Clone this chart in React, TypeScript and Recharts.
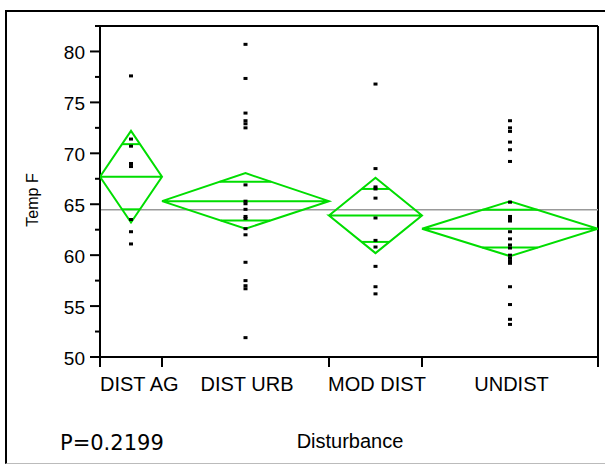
import React from "react";
import { ComposedChart, Scatter, XAxis, YAxis, ReferenceLine } from "recharts";

const categories = ["DIST AG", "DIST URB", "MOD DIST", "UNDIST"];
// group edges on the x axis; widths grow with group size
const groupEdges = [0, 62, 229, 322, 498];

const distAg = [77.6, 71.4, 70.7, 69.0, 68.7, 63.5, 62.3, 61.1];
const distUrb = [80.7, 77.35, 73.95, 73.2, 72.9, 72.5, 66.9, 65.3, 65.05, 64.5, 63.8, 63.6, 62.6, 62.0, 59.3, 57.5, 57.0, 56.7, 51.9];
const modDist = [76.8, 68.5, 66.7, 66.5, 65.6, 63.65, 61.45, 60.8, 58.9, 56.9, 56.2];
const undist = [73.2, 72.5, 72.15, 71.1, 70.35, 69.2, 65.2, 63.8, 63.6, 63.35, 62.3, 61.6, 61.0, 60.7, 60.0, 59.7, 59.45, 59.2, 56.9, 55.15, 53.7, 53.2];
const groups = [distAg, distUrb, modDist, undist];

const groupMeans = [67.7, 65.3, 63.9, 62.6];
const ciUpper = [72.2, 68.05, 67.6, 65.3];
const ciLower = [63.2, 62.6, 60.2, 59.9];
const overlapUpper = [70.9, 67.2, 66.5, 64.45];
const overlapLower = [64.5, 63.4, 61.3, 60.75];
const grandMean = 64.45;

const yTicks = [50, 52.5, 55, 57.5, 60, 62.5, 65, 67.5, 70, 72.5, 75, 77.5, 80, 82.5];
const pLabel = "P=0.2199";

const GREEN = "#00dd00";
const PLOT_LEFT = 100;
const PLOT_BOTTOM = 357;
const FONT = "Arial, 'Liberation Sans', sans-serif";

const centers = categories.map((_, i) => (groupEdges[i] + groupEdges[i + 1]) / 2);
const xTicks = [...groupEdges, ...centers].sort((a, b) => a - b);

const dotData = groups.flatMap((vals, i) => vals.map((v) => ({ x: centers[i], y: v })));

const diamonds = categories.map((_, i) => {
  const l = groupEdges[i];
  const r = groupEdges[i + 1];
  const c = centers[i];
  return [
    { x: l, y: groupMeans[i] },
    { x: c, y: ciUpper[i] },
    { x: r, y: groupMeans[i] },
    { x: c, y: ciLower[i] },
    { x: l, y: groupMeans[i] },
    { x: r, y: groupMeans[i] },
  ];
});

// overlap marks sit on the diamond edges
const overlapSegments = categories.flatMap((_, i) => {
  const half = (groupEdges[i + 1] - groupEdges[i]) / 2;
  const c = centers[i];
  const m = groupMeans[i];
  const seg = (v: number, ci: number) => {
    const w = half * (1 - Math.abs(v - m) / Math.abs(ci - m));
    return [
      { x: c - w, y: v },
      { x: c + w, y: v },
    ];
  };
  return [seg(overlapUpper[i], ciUpper[i]), seg(overlapLower[i], ciLower[i])];
});

const Dot = (p: any) => <rect x={p.cx - 2} y={p.cy - 1.5} width={4} height={3} fill="#000" />;

const YTick = (props: any) => {
  const { y, payload } = props;
  const major = payload.value % 5 === 0;
  return (
    <g>
      <line x1={PLOT_LEFT - (major ? 10 : 5)} x2={PLOT_LEFT} y1={y} y2={y} stroke="#000" strokeWidth={2} />
      {major && payload.value <= 80 && (
        <text x={PLOT_LEFT - 15} y={y + 8} textAnchor="end" fontSize={19} fontFamily={FONT} fill="#000">
          {payload.value}
        </text>
      )}
    </g>
  );
};

const XTick = (props: any) => {
  const { x, payload } = props;
  const v = payload.value;
  if (groupEdges.includes(v)) {
    return <line x1={x} x2={x} y1={PLOT_BOTTOM} y2={PLOT_BOTTOM + 10} stroke="#000" strokeWidth={2} />;
  }
  const i = centers.indexOf(v);
  if (i < 0) return <g />;
  const first = i === 0;
  return (
    <text
      x={first ? PLOT_LEFT : x + 1.5}
      y={391}
      textAnchor={first ? "start" : "middle"}
      fontSize={20}
      fontFamily={FONT}
      fill="#000"
    >
      {categories[i]}
    </text>
  );
};

export default function App() {
  return (
    <div style={{ position: "absolute", left: 0, top: 0, width: 605, height: 464, background: "#fff", overflow: "hidden" }}>
      <div
        style={{
          position: "absolute",
          left: 5,
          top: 10,
          width: 620,
          height: 451,
          borderLeft: "2px solid #000",
          borderTop: "2px solid #000",
          borderBottom: "1px solid #bbb",
        }}
      />
      <div style={{ position: "absolute", left: 0, top: 0 }}>
        <ComposedChart width={605} height={464} margin={{ top: 26, right: 7, bottom: 47, left: 0 }}>
          <XAxis
            type="number"
            dataKey="x"
            domain={[0, 498]}
            ticks={xTicks}
            interval={0}
            allowDataOverflow
            height={60}
            tickLine={false}
            tick={<XTick />}
            axisLine={{ stroke: "#000", strokeWidth: 2 }}
          />
          <YAxis
            type="number"
            dataKey="y"
            domain={[50, 82.5]}
            ticks={yTicks}
            interval={0}
            allowDataOverflow
            width={100}
            tickLine={false}
            tick={<YTick />}
            axisLine={{ stroke: "#000", strokeWidth: 2 }}
          />
          <ReferenceLine y={82.5} stroke="#000" strokeWidth={2} />
          <ReferenceLine x={498} stroke="#000" strokeWidth={2} />
          <ReferenceLine y={grandMean} stroke="#999" strokeWidth={1.5} />
          {diamonds.map((d, i) => (
            <Scatter
              key={"d" + i}
              data={d}
              line={{ stroke: GREEN, strokeWidth: 2 }}
              shape={() => <g />}
              isAnimationActive={false}
            />
          ))}
          {overlapSegments.map((s, i) => (
            <Scatter
              key={"o" + i}
              data={s}
              line={{ stroke: GREEN, strokeWidth: 2 }}
              shape={() => <g />}
              isAnimationActive={false}
            />
          ))}
          <Scatter data={dotData} shape={Dot} isAnimationActive={false} />
        </ComposedChart>
      </div>
      <svg style={{ position: "absolute", left: 0, top: 0 }} width={605} height={464}>
        <text x={38} y={200} transform="rotate(-90 38 200)" textAnchor="middle" fontSize={16} fontFamily={FONT}>
          Temp F
        </text>
        <text x={60} y={450} fontSize={21} fontFamily="'DejaVu Sans', Verdana, sans-serif">
          {pLabel}
        </text>
        <text x={350} y={448} textAnchor="middle" fontSize={20} fontFamily={FONT}>
          Disturbance
        </text>
      </svg>
    </div>
  );
}
